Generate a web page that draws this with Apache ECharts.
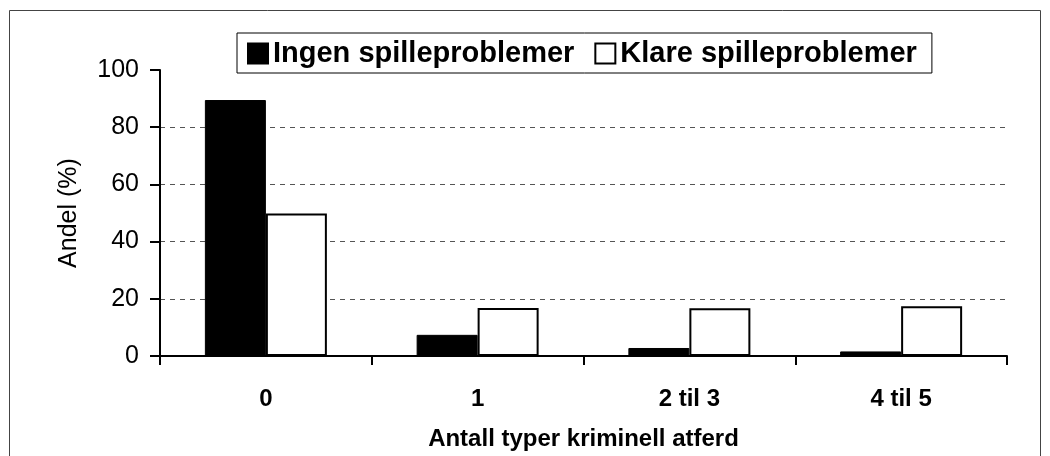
<!DOCTYPE html>
<html lang="no">
  <head>
    <meta charset="UTF-8" />
    <title>Andel etter kriminell atferd</title>
    <style>
      html, body { margin: 0; padding: 0; background: #fff; }
      #chart { width: 1050px; height: 456px; }
    </style>
    <script src="https://cdn.jsdelivr.net/npm/echarts@6/dist/echarts.min.js"></script>
  </head>
  <body>
    <div id="chart"></div>
    <script>
      // data
      const categories = ['0', '1', '2 til 3', '4 til 5']
      const ingen = [89.5, 7.4, 2.8, 1.6]
      const klare = [49.8, 16.8, 16.7, 17.4]
      const yTicks = [0, 20, 40, 60, 80, 100]

      const font = 'Liberation Sans, Arial, sans-serif'
      const chart = echarts.init(document.getElementById('chart'))

      const option = {
        backgroundColor: '#fff',
        animation: false,
        textStyle: { fontFamily: font, color: '#000' },
        graphic: [
          {
            type: 'rect',
            shape: { x: 9.5, y: 10.5, width: 1031, height: 460 },
            style: { fill: 'none', stroke: '#444', lineWidth: 1 },
            silent: true
          }
        ],
        legend: {
          left: 237,
          top: 33,
          padding: [6, 15, 5, 10],
          itemGap: 20,
          itemWidth: 20,
          itemHeight: 20,
          icon: 'rect',
          borderColor: '#000',
          borderWidth: 1,
          textStyle: { fontSize: 29, fontWeight: 'bold', color: '#000', fontFamily: font }
        },
        grid: { left: 160, right: 43, top: 70, bottom: 99 },
        xAxis: {
          type: 'category',
          data: categories,
          name: 'Antall typer kriminell atferd',
          nameLocation: 'middle',
          nameGap: 71,
          nameTextStyle: { fontSize: 24, fontWeight: 'bold', color: '#000', fontFamily: font },
          axisLine: { lineStyle: { color: '#000', width: 2 } },
          axisTick: { show: true, length: 9, lineStyle: { color: '#000', width: 2 } },
          axisLabel: { margin: 31, fontSize: 24, fontWeight: 'bold', color: '#000', fontFamily: font }
        },
        yAxis: {
          type: 'value',
          min: yTicks[0],
          max: yTicks[yTicks.length - 1],
          interval: 20,
          name: 'Andel (%)',
          nameLocation: 'middle',
          nameGap: 78,
          nameTextStyle: { fontSize: 25, color: '#000', fontFamily: font },
          axisLine: { show: true, lineStyle: { color: '#000', width: 2 } },
          axisTick: { show: true, length: 10, lineStyle: { color: '#000', width: 2 } },
          axisLabel: { margin: 21, fontSize: 25, color: '#000', fontFamily: font },
          splitLine: {
            show: true,
            lineStyle: {
              color: ['#555', '#555', '#555', '#555', '#555', 'transparent'],
              type: [5, 5],
              width: 1
            }
          }
        },
        series: [
          {
            name: 'Ingen spilleproblemer',
            type: 'bar',
            data: ingen,
            barWidth: 61,
            barGap: '0%',
            itemStyle: { color: '#000', borderColor: '#000', borderWidth: 1 }
          },
          {
            name: 'Klare spilleproblemer',
            type: 'bar',
            data: klare,
            barWidth: 61,
            itemStyle: { color: '#fff', borderColor: '#000', borderWidth: 2 }
          }
        ]
      }

      chart.setOption(option)
    </script>
  </body>
</html>
